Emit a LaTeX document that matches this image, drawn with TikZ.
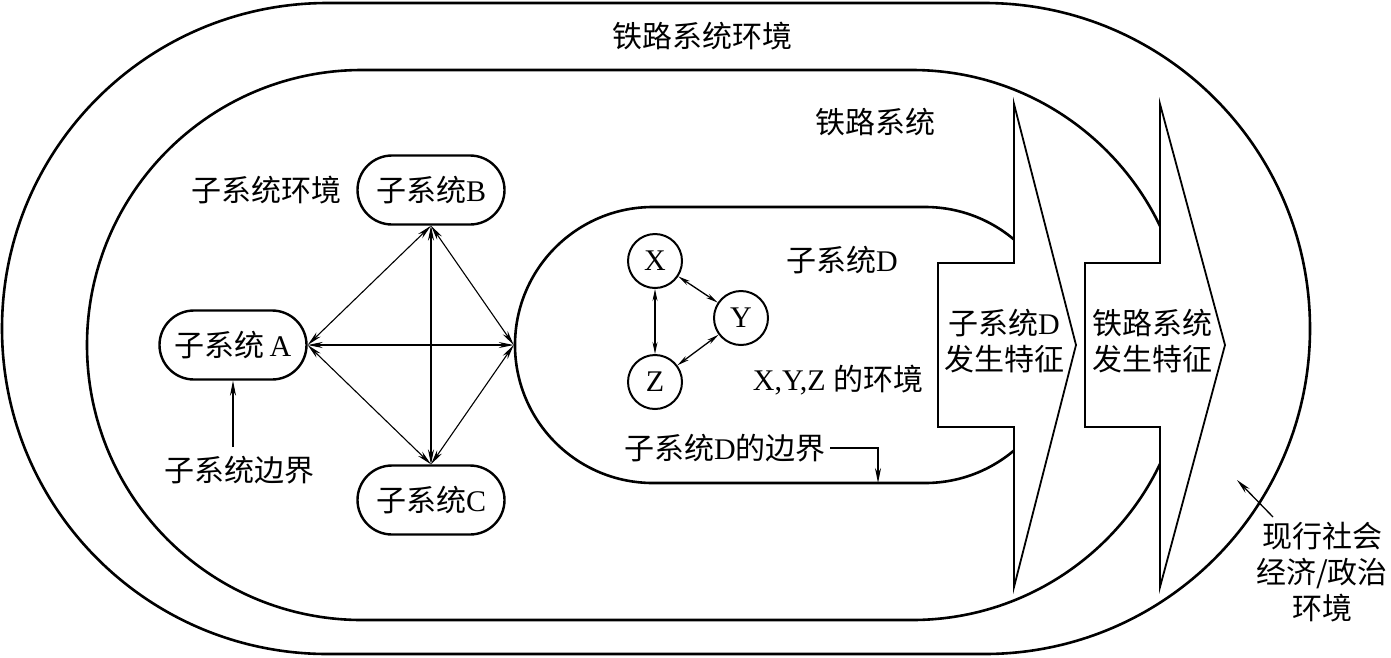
\documentclass[tikz,border=0pt]{standalone}
\usepackage{fontspec}
\setmainfont{Liberation Serif}
\newfontfamily\cjk{Noto Sans CJK SC}
\usetikzlibrary{shapes.misc,arrows.meta}
\newcommand\zhtext[1]{{\cjk #1}}
\begin{document}
\begin{tikzpicture}[x=1pt,y=-1pt,
  every node/.style={font=\fontsize{30}{36}\selectfont, inner sep=0pt},
  stadium/.style={draw, rounded rectangle, line width=2.6pt, inner sep=0pt},
  sub/.style={draw, rounded rectangle, line width=2.4pt, minimum width=147pt, minimum height=69pt},
  elem/.style={draw, circle, line width=2pt, minimum size=54pt},
  link/.style={line width=1.1pt, {Stealth[length=15pt,width=6pt]}-{Stealth[length=15pt,width=6pt]}},
  linksmall/.style={line width=1.3pt, {Stealth[length=12pt,width=5pt]}-{Stealth[length=12pt,width=5pt]}},
  ptr/.style={line width=1.3pt, -{Stealth[length=15pt,width=6pt]}},
  blockarrow/.style={draw, fill=white, line width=1.8pt, line join=miter}
]
\useasboundingbox (0,0) rectangle (1391,657);
\fill[white] (0,0) rectangle (1391,657);
% system boundaries
\node[stadium, minimum width=1308pt, minimum height=651pt] (outer) at (656,328.5) {};
\node[stadium, minimum width=1100pt, minimum height=550pt] (inner) at (637,345) {};
\node[stadium, minimum width=548pt, minimum height=276pt] (D) at (789,345) {};
% subsystems
\node[sub] (B) at (431,190) {\zhtext{子系统}B};
\node[sub] (A) at (233,345) {\zhtext{子系统}\,A};
\node[sub] (C) at (431,500) {\zhtext{子系统}C};
\draw[link] (B.south) -- (A.east);
\draw[link] (B.south) -- (C.north);
\draw[link] (B.south) -- (D.west);
\draw[link] (A.east) -- (D.west);
\draw[link] (A.east) -- (C.north);
\draw[link] (C.north) -- (D.west);
% elements of D
\node[elem] (X) at (655,261) {X};
\node[elem] (Y) at (741,318) {Y};
\node[elem] (Z) at (655,382) {Z};
\draw[linksmall] (X) -- (Z);
\draw[linksmall] (X) -- (Y);
\draw[linksmall] (Y) -- (Z);
% labels
\node (envrail) at (702,36) {\zhtext{铁路系统环境}};
\node (rail) at (875,122) {\zhtext{铁路系统}};
\node (envsub) at (266,190) {\zhtext{子系统环境}};
\node (bndsub) at (239,470) {\zhtext{子系统边界}};
\coordinate (bndtop) at (233,447);
\draw[ptr] (bndtop) -- (A.south);
\node (dlab) at (842,260) {\zhtext{子系统}D};
\node (xyzenv) at (838,380) {X,Y,Z \zhtext{的环境}};
\node (dbnd) at (725,448) {\zhtext{子系统}D\zhtext{的边界}};
\coordinate (dbndpt) at (878,483);
\draw[ptr] ([xshift=4pt]dbnd.east) -| (dbndpt);
% emergent properties
\draw[blockarrow] (938,263) -- (1014,263) -- (1014,104) -- (1076,345) -- (1014,587) -- (1014,427) -- (938,427) -- cycle;
\draw[blockarrow] (1085,263) -- (1160,263) -- (1160,104) -- (1225,345) -- (1160,587) -- (1160,427) -- (1085,427) -- cycle;
\node[align=center] (ch1) at (1004,341) {\zhtext{子系统}D\\\zhtext{发生特征}};
\node[align=center] (ch2) at (1152,341) {\zhtext{铁路系统}\\\zhtext{发生特征}};
% socio-economic environment
\node[align=center] (soc) at (1322,572) {\zhtext{现行社会}\\\zhtext{经济/政治}\\\zhtext{环境}};
\coordinate (socstart) at (1273,517);
\coordinate (socpt) at (1237,480);
\draw[ptr] (socstart) -- (socpt);
\end{tikzpicture}
\end{document}
